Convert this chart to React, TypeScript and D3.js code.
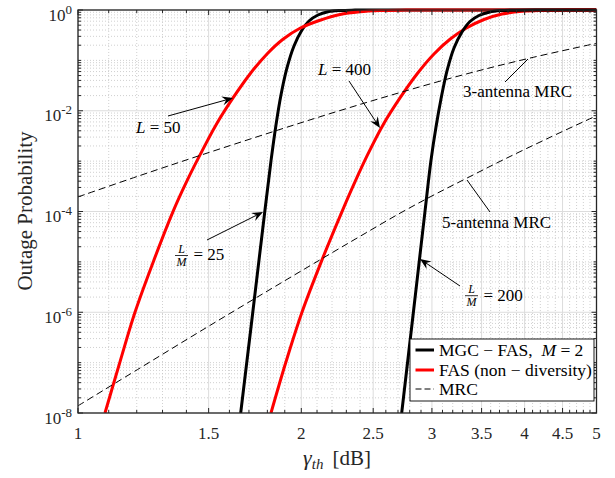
import React from "react";
import * as d3 from "d3";

const W = 615;
const H = 478;
const PL = 78;
const PR = 596.5;
const PT = 10;
const PB = 413;
const FONT = "'Liberation Serif', 'Times New Roman', serif";

const xTicks = [1, 1.5, 2, 2.5, 3, 3.5, 4, 4.5, 5];
const xTickLabels = ["1", "1.5", "2", "2.5", "3", "3.5", "4", "4.5", "5"];
const yTicks = [1e-8, 1e-6, 1e-4, 1e-2, 1];
const yTickExps = ["-8", "-6", "-4", "-2", "0"];

// MGC-FAS, M = 2, L/M = 25
const mgc25X = [1.657, 1.7204, 1.7857, 1.8204, 1.8488, 1.8777, 1.913, 1.9551, 2.0042, 2.0483, 2.1063, 2.1727, 2.2553, 2.3627, 2.514, 5];
const mgc25Y = [1e-8, 1e-6, 1e-4, 1.009e-3, 5.23e-3, 0.02058, 0.07067, 0.1931, 0.401, 0.605, 0.7962, 0.921, 0.9774, 0.9954, 1, 1];
// FAS (non-diversity), L = 50
const fas50X = [1.0874, 1.1392, 1.1935, 1.2661, 1.343, 1.3983, 1.4604, 1.5347, 1.6179, 1.7056, 1.798, 1.8895, 1.9919, 2.1196, 2.2553, 2.3996, 2.5534, 2.7169, 2.9821, 5];
const fas50Y = [1e-8, 1.038e-7, 1e-6, 1.096e-5, 9.96e-5, 3.694e-4, 1.327e-3, 5.23e-3, 0.01795, 0.05372, 0.1339, 0.2623, 0.4334, 0.6248, 0.8141, 0.921, 0.973, 0.9932, 1, 1];
// FAS (non-diversity), L = 400
const fas400X = [1.8204, 1.9072, 2.0042, 2.1328, 2.2693, 2.3591, 2.4562, 2.5773, 2.7169, 2.8641, 3.0193, 3.173, 3.3346, 3.5262, 3.7289, 3.9679, 4.222, 4.5344, 5];
const fas400Y = [1e-8, 1.038e-7, 1e-6, 1.096e-5, 9.96e-5, 3.694e-4, 1.327e-3, 5.23e-3, 0.01795, 0.05372, 0.1339, 0.2623, 0.4334, 0.6477, 0.8329, 0.9424, 0.9819, 0.9954, 1];
// MGC-FAS, M = 2, L/M = 200
const mgc200X = [2.7312, 2.8322, 2.9361, 2.9904, 3.0381, 3.0856, 3.1436, 3.2127, 3.2934, 3.3762, 3.4719, 3.5813, 3.7172, 3.8946, 4.1959, 5];
const mgc200Y = [1e-8, 1e-6, 1.004e-4, 1.009e-3, 4.77e-3, 0.01715, 0.06163, 0.1762, 0.3661, 0.5911, 0.7778, 0.9046, 0.973, 0.9932, 1, 1];
// 3-antenna MRC
const mrc3X = [1, 1.2122, 1.4604, 1.8431, 2.2552, 2.7169, 3.3418, 4.0675, 5];
const mrc3Y = [1.949e-4, 5.18e-4, 1.297e-3, 3.956e-3, 0.01009, 0.02297, 0.05398, 0.1111, 0.2184];
// 5-antenna MRC
const mrc5X = [1, 1.2122, 1.4604, 1.7593, 2.1413, 2.3996, 2.7169, 3.01, 3.3418, 3.7404, 4.3278, 5];
const mrc5Y = [1.39e-8, 7.81e-8, 4.16e-7, 2.154e-6, 1.2e-5, 3.21e-5, 9.25e-5, 2.087e-4, 4.577e-4, 1.056e-3, 2.966e-3, 7.96e-3];

const legendLabels = ["MGC − FAS,  ", "FAS (non − diversity)", "MRC"];

const x = d3.scaleLog().domain([1, 5]).range([PL, PR]);
const y = d3.scaleLog().domain([1e-8, 1]).range([PB, PT]);

const zip = (xs: number[], ys: number[]) => xs.map((v, i) => [v, ys[i]] as [number, number]);
const line = d3
  .line<[number, number]>()
  .x((d) => x(d[0]))
  .y((d) => Math.max(PT, y(d[1])))
  .curve(d3.curveCatmullRom.alpha(0.5));

const xMinor: number[] = [];
for (let i = 11; i < 50; i++) {
  if (i % 5 !== 0) xMinor.push(i / 10);
}
const yMinor: number[] = [];
for (let e = -8; e < 0; e++) {
  for (let k = 1; k <= 9; k++) {
    if (k === 1 && e % 2 === 0) continue;
    yMinor.push(k * Math.pow(10, e));
  }
}

function Arrow({ x1, y1, x2, y2, head = true }: { x1: number; y1: number; x2: number; y2: number; head?: boolean }) {
  const dx = x2 - x1;
  const dy = y2 - y1;
  const len = Math.hypot(dx, dy);
  const ux = dx / len;
  const uy = dy / len;
  const px = -uy;
  const py = ux;
  const L = 11;
  const Wd = 4.5;
  const bx = x2 - ux * L;
  const by = y2 - uy * L;
  const ix = x2 - ux * L * 0.65;
  const iy = y2 - uy * L * 0.65;
  const pts = `${x2},${y2} ${bx + px * Wd},${by + py * Wd} ${ix},${iy} ${bx - px * Wd},${by - py * Wd}`;
  return (
    <g>
      <line x1={x1} y1={y1} x2={head ? ix : x2} y2={head ? iy : y2} stroke="#000" strokeWidth={1} />
      {head && <polygon points={pts} fill="#000" />}
    </g>
  );
}

function Frac({ cx, bar }: { cx: number; bar: number }) {
  return (
    <g fontFamily={FONT} fontSize={12} fontStyle="italic" fill="#000">
      <text x={cx} y={bar - 2.5} textAnchor="middle">L</text>
      <line x1={cx - 6.5} x2={cx + 6.5} y1={bar} y2={bar} stroke="#000" strokeWidth={0.8} />
      <text x={cx} y={bar + 10.5} textAnchor="middle">M</text>
    </g>
  );
}

export default function App() {
  return (
    <div style={{ position: "absolute", left: 0, top: 0 }}>
      <svg width={W} height={H} viewBox={`0 0 ${W} ${H}`} style={{ display: "block", background: "#fff" }}>
        <defs>
          <clipPath id="plotclip">
            <rect x={PL} y={PT - 3} width={PR - PL} height={PB - PT + 3} />
          </clipPath>
        </defs>
        <rect x={0} y={0} width={W} height={H} fill="#fff" />
        {/* minor grid */}
        <g stroke="#c4c4c4" strokeWidth={0.8} strokeDasharray="1,2">
          {xMinor.map((v) => (
            <line key={"xm" + v} x1={x(v)} x2={x(v)} y1={PT} y2={PB} />
          ))}
          {yMinor.map((v) => (
            <line key={"ym" + v} x1={PL} x2={PR} y1={y(v)} y2={y(v)} />
          ))}
        </g>
        {/* major grid */}
        <g stroke="#dcdcdc" strokeWidth={1}>
          {xTicks.map((v) => (
            <line key={"xg" + v} x1={x(v)} x2={x(v)} y1={PT} y2={PB} />
          ))}
          {yTicks.map((v) => (
            <line key={"yg" + v} x1={PL} x2={PR} y1={y(v)} y2={y(v)} />
          ))}
        </g>
        {/* curves */}
        <g clipPath="url(#plotclip)" fill="none" strokeLinejoin="round">
          <path d={line(zip(mgc25X, mgc25Y)) || ""} stroke="#000" strokeWidth={3} />
          <path d={line(zip(fas50X, fas50Y)) || ""} stroke="#ff0000" strokeWidth={3} />
          <path d={line(zip(fas400X, fas400Y)) || ""} stroke="#ff0000" strokeWidth={3} />
          <path d={line(zip(mgc200X, mgc200Y)) || ""} stroke="#000" strokeWidth={3} />
          <path d={line(zip(mrc3X, mrc3Y)) || ""} stroke="#000" strokeWidth={1} strokeDasharray="7,4" />
          <path d={line(zip(mrc5X, mrc5Y)) || ""} stroke="#000" strokeWidth={1} strokeDasharray="7,4" />
        </g>
        {/* ticks */}
        <g stroke="#262626" strokeWidth={1}>
          {xTicks.map((v) => (
            <g key={"xt" + v}>
              <line x1={x(v)} x2={x(v)} y1={PB} y2={PB - 5} />
              <line x1={x(v)} x2={x(v)} y1={PT} y2={PT + 5} />
            </g>
          ))}
          {xMinor.map((v) => (
            <g key={"xmt" + v}>
              <line x1={x(v)} x2={x(v)} y1={PB} y2={PB - 3} />
              <line x1={x(v)} x2={x(v)} y1={PT} y2={PT + 3} />
            </g>
          ))}
          {yTicks.map((v) => (
            <g key={"yt" + v}>
              <line x1={PL} x2={PL + 5} y1={y(v)} y2={y(v)} />
              <line x1={PR} x2={PR - 5} y1={y(v)} y2={y(v)} />
            </g>
          ))}
          {yMinor.map((v) => (
            <g key={"ymt" + v}>
              <line x1={PL} x2={PL + 3} y1={y(v)} y2={y(v)} />
              <line x1={PR} x2={PR - 3} y1={y(v)} y2={y(v)} />
            </g>
          ))}
        </g>
        <rect x={PL} y={PT} width={PR - PL} height={PB - PT} fill="none" stroke="#262626" strokeWidth={1.3} />
        {/* tick labels */}
        <g fontFamily={FONT} fill="#262626">
          {xTicks.map((v, i) => (
            <text key={"xl" + v} x={x(v)} y={438.5} fontSize={17} textAnchor="middle">
              {xTickLabels[i]}
            </text>
          ))}
          {yTicks.map((v, i) => (
            <text key={"yl" + v} x={72} y={y(v) + 10.5} fontSize={17} textAnchor="end">
              10
              <tspan fontSize={13} dy={-7}>
                {yTickExps[i]}
              </tspan>
            </text>
          ))}
        </g>
        {/* axis labels */}
        <text x={337} y={465} textAnchor="middle" fontFamily={FONT} fontSize={22} fill="#262626">
          <tspan fontStyle="italic">γ</tspan>
          <tspan fontStyle="italic" fontSize={15} dy={4}>
            th
          </tspan>
          <tspan dy={-4} dx={9} fontSize={21}>
            [dB]
          </tspan>
        </text>
        <text
          transform="translate(32,211) rotate(-90)"
          textAnchor="middle"
          fontFamily={FONT}
          fontSize={21}
          fill="#262626"
        >
          Outage Probability
        </text>
        {/* annotations */}
        <Arrow x1={168} y1={116} x2={233} y2={98} />
        <Arrow x1={349} y1={81} x2={380} y2={128} />
        <Arrow x1={207} y1={240} x2={263} y2={212} />
        <Arrow x1={460} y1={286} x2={420} y2={259} />
        <Arrow x1={505} y1={82} x2={528} y2={59} head={false} />
        <Arrow x1={490} y1={212} x2={467} y2={180} head={false} />
        <g fontFamily={FONT} fontSize={17} fill="#000">
          <text x={136} y={132.5} xmlSpace="preserve">
            <tspan fontStyle="italic">L</tspan> = 50
          </text>
          <text x={318} y={75} xmlSpace="preserve">
            <tspan fontStyle="italic">L</tspan> = 400
          </text>
          <text x={463} y={96.5}>3-antenna MRC</text>
          <text x={442} y={228.3}>5-antenna MRC</text>
          <text x={193.5} y={259.5}>= 25</text>
          <text x={483.5} y={300.7}>= 200</text>
        </g>
        <Frac cx={181.5} bar={255.5} />
        <Frac cx={471.5} bar={295.7} />
        {/* legend */}
        <rect x={410} y={339} width={184} height={62} fill="#fff" stroke="#000" strokeWidth={0.9} />
        <line x1={415.5} x2={434} y1={350} y2={350} stroke="#000" strokeWidth={3} />
        <line x1={415.5} x2={434} y1={370} y2={370} stroke="#ff0000" strokeWidth={3} />
        <line x1={415.5} x2={434} y1={389} y2={389} stroke="#000" strokeWidth={1} strokeDasharray="6,3" />
        <g fontFamily={FONT} fontSize={17.5} fill="#000">
          <text x={439} y={355.5} xmlSpace="preserve">
            {legendLabels[0]}
            <tspan fontStyle="italic">M</tspan> = 2
          </text>
          <text x={439} y={375.5} xmlSpace="preserve">
            {legendLabels[1]}
          </text>
          <text x={439} y={394.5}>{legendLabels[2]}</text>
        </g>
      </svg>
    </div>
  );
}
